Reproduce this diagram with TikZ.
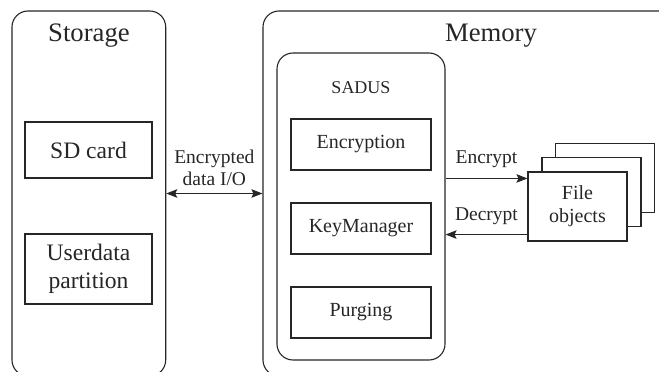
\documentclass[tikz,border=0pt]{standalone}
\usepackage{fontspec}
\setmainfont{Liberation Serif}
\usetikzlibrary{arrows.meta,calc}
\begin{document}
\begin{tikzpicture}[x=1pt,y=-1pt,
  line width=1.1pt,
  >={Stealth[length=11pt,width=8.5pt,inset=2pt]},
  every node/.style={text=black!85},
  bigbox/.style={draw=black!85, rounded corners=16pt, inner sep=0pt},
  comp/.style={draw=black!85, rectangle, inner sep=0pt, minimum width=140pt, minimum height=51pt,
    font=\fontsize{20}{24}\selectfont},
  stor/.style={draw=black!85, rectangle, inner sep=0pt, minimum width=127pt, align=center,
    font=\fontsize{23.6}{28}\selectfont},
  fobj/.style={draw=black!85, fill=white, rectangle, inner sep=0pt, minimum width=99pt, minimum height=69pt,
    align=center, font=\fontsize{20}{22.7}\selectfont},
  title/.style={anchor=base, inner sep=0pt, font=\fontsize{26.7}{30}\selectfont},
  lab/.style={inner sep=0pt, font=\fontsize{19.5}{22.7}\selectfont},
  arr/.style={draw=black!85, line width=1.1pt}]
\useasboundingbox (0,0) rectangle (659,372);
\clip (0,0) rectangle (659,372);
% regions
\node[bigbox, minimum width=153.7pt, minimum height=365pt] (storage) at (88.85,193.5) {};
\node[bigbox, minimum width=437pt, minimum height=365pt] (memory) at (481.5,193.5) {};
\node[title] (storaget) at (89,41.5) {Storage};
\node[title] (memoryt) at (491,41.5) {Memory};
% storage parts
\node[stor, minimum height=56pt] (sd) at (88.5,150) {SD card};
\node[stor, minimum height=70pt] (ud) at (88.5,269) {Userdata\\partition};
% SADUS
\node[bigbox, minimum width=168pt, minimum height=307pt] (sadus) at (361,206.5) {};
\node[anchor=base, inner sep=0pt, font=\fontsize{18}{22}\selectfont] (sadust) at (361,93.5) {SADUS};
\node[comp] (encm) at (361,144.5) {Encryption};
\node[comp] (keym) at (361,228.5) {KeyManager};
\node[comp] (purg) at (361,312.5) {Purging};
% file objects
\node[fobj] (fo3) at (605,178) {};
\node[fobj] (fo2) at (591.5,192) {};
\node[fobj] (fo) at (577.5,206.5) {File\\objects};
% connectors
\draw[arr, <->] (storage.east) -- (storage.east -| memory.west)
  node[lab, midway, anchor=south, yshift=7pt, align=center] (iolab) {Encrypted\\data I/O};
\coordinate (ein) at ([yshift=-7pt]fo.north west);
\coordinate (din) at ([yshift=7pt]fo.south west);
\draw[arr, ->] (sadus.east |- ein) -- (ein)
  node[lab, midway, anchor=base, yshift=15pt] (enclab) {Encrypt};
\draw[arr, ->] (din) -- (sadus.east |- din)
  node[lab, midway, anchor=base, yshift=14pt] (declab) {Decrypt};
\end{tikzpicture}
\end{document}
